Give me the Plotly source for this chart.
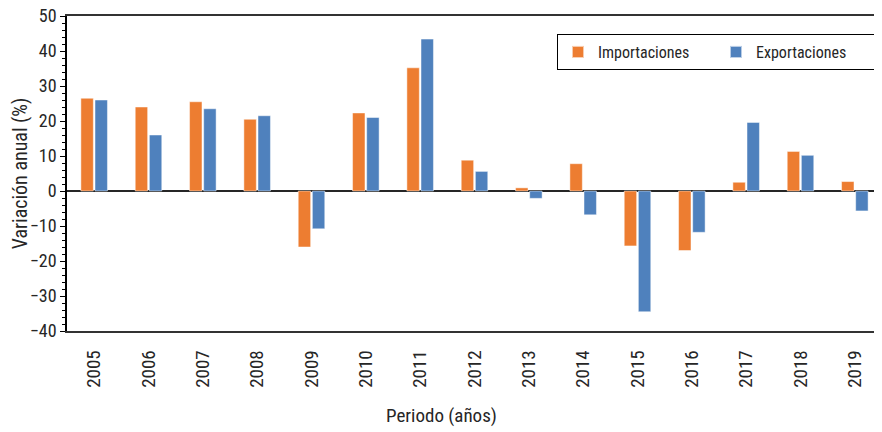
import plotly.graph_objects as go

years = ["2005", "2006", "2007", "2008", "2009", "2010", "2011", "2012",
         "2013", "2014", "2015", "2016", "2017", "2018", "2019"]
importaciones = [26.5, 24.0, 25.5, 20.5, -16.0, 22.3, 35.2, 8.8,
                 0.9, 7.8, -15.7, -17.0, 2.5, 11.3, 2.7]
exportaciones = [26.0, 16.0, 23.5, 21.5, -10.8, 21.0, 43.4, 5.6,
                 -2.1, -6.8, -34.5, -11.8, 19.6, 10.2, -5.7]

FONT = "Liberation Sans Narrow, Roboto Condensed, DejaVu Sans Condensed, Arial Narrow, sans-serif"

fig = go.Figure()
fig.add_trace(go.Bar(x=years, y=importaciones, name="Importaciones",
                     marker=dict(color="#ED7D31", line=dict(color="rgba(255,255,255,0.6)", width=0.8))))
fig.add_trace(go.Bar(x=years, y=exportaciones, name="Exportaciones",
                     marker=dict(color="#4F81BD", line=dict(color="rgba(255,255,255,0.6)", width=0.8))))

# page body has an 8px margin, so the figure is offset by 8px
OFF = 8
W, H = 882 - OFF, 432 - OFF
L = 67 - OFF
T = 16 - OFF
B = H - (331 - OFF)
R = 0
pw = W - L - R
ph = H - T - B

def px_x(vx):  # viewport x -> paper x
    return (vx - OFF - L) / pw

def px_y(vy):  # viewport y -> paper y
    return (H - B - (vy - OFF)) / ph

fig.update_layout(
    width=W, height=H,
    margin=dict(l=L, r=R, t=T, b=B, autoexpand=False),
    paper_bgcolor="white", plot_bgcolor="white",
    barmode="group", bargap=0.48, bargroupgap=0.12,
    font=dict(family=FONT, size=18, color="#262626"),
    showlegend=True,
    legend=dict(orientation="h", x=px_x(557), y=px_y(34),
                xanchor="left", yanchor="top",
                bordercolor="black", borderwidth=1, bgcolor="white",
                font=dict(family=FONT, size=16, color="#262626"),
                entrywidth=113, entrywidthmode="pixels",
                itemsizing="constant"),
    xaxis=dict(
        type="category", showline=True, linecolor="#333333", linewidth=1.5,
        mirror=True, ticks="", tickangle=-90, ticklabelstandoff=10,
        tickfont=dict(family=FONT, size=19, color="#262626"),
        showgrid=False, zeroline=False, ticklabeloverflow="allow",
    ),
    yaxis=dict(
        range=[-40, 50], dtick=10, showline=True, linecolor="black", linewidth=1.5,
        ticks="outside", ticklen=5, tickwidth=1.2, tickcolor="black",
        minor=dict(dtick=2, ticks="outside", ticklen=3, tickcolor="black", tickwidth=1),
        showgrid=False, zeroline=True, zerolinecolor="#262626", zerolinewidth=1.5,
        tickfont=dict(family=FONT, size=18, color="#262626"),
        ticklabeloverflow="allow",
        title=dict(text="Variación anual (%)", standoff=7,
                   font=dict(family=FONT, size=20, color="#262626")),
    ),
    annotations=[dict(
        text="Periodo (años)", xref="paper", yref="paper",
        x=px_x(441), y=px_y(415), xanchor="center", yanchor="middle",
        showarrow=False, font=dict(family=FONT, size=19, color="#262626"),
    )],
)

fig.write_html("out.html")
